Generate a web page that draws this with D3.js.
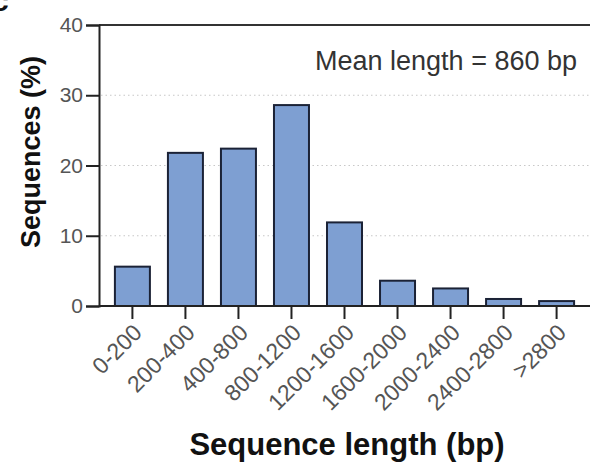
<!DOCTYPE html>
<html><head><meta charset="utf-8">
<script src="https://cdn.jsdelivr.net/npm/d3@7"></script>
<style>body{margin:0;background:#fff}</style>
</head><body>
<svg id="c" width="591" height="465"></svg>
<script>
const categories = ["0-200","200-400","400-800","800-1200","1200-1600","1600-2000","2000-2400","2400-2800",">2800"];
const values = [5.6, 21.8, 22.4, 28.6, 11.9, 3.6, 2.5, 1.0, 0.7];
const yTicks = [0, 10, 20, 30, 40];
const annotation = "Mean length = 860 bp";

const svg = d3.select("#c");
const font = "Liberation Sans, Arial, Helvetica, sans-serif";
const L = 99, R = 590, T = 25, B = 306;

const x = d3.scaleBand().domain(categories).range([L, R]).paddingInner(0.34).paddingOuter(0.3);
const y = d3.scaleLinear().domain([0, 40]).range([B, T]);

// panel letter fragment
svg.append("text").attr("x", -8).attr("y", 11).attr("font-family", font)
  .attr("font-weight", "bold").attr("font-size", 30).attr("fill", "#111").text("c");

// gridlines
svg.append("g").selectAll("line").data(yTicks.filter(d => d > 0 && d < 40)).join("line")
  .attr("x1", L + 2).attr("x2", R).attr("y1", d => y(d)).attr("y2", d => y(d))
  .attr("stroke", "#c8c8c8").attr("stroke-width", 1.2).attr("stroke-dasharray", "1.5,3");

// bars
svg.append("g").selectAll("rect").data(values).join("rect")
  .attr("x", (d, i) => x(categories[i])).attr("width", x.bandwidth())
  .attr("y", d => y(d)).attr("height", d => B - y(d))
  .attr("fill", "#7e9fd2").attr("stroke", "#1b2236").attr("stroke-width", 2);

// top frame line
svg.append("line").attr("x1", L).attr("x2", R).attr("y1", T).attr("y2", T)
  .attr("stroke", "#333").attr("stroke-width", 2);

// y axis
const ya = svg.append("g").attr("transform", `translate(${L},0)`)
  .call(d3.axisLeft(y).tickValues(yTicks).tickSize(13).tickPadding(3));
ya.select(".domain").attr("stroke", "#222").attr("stroke-width", 2);
ya.selectAll(".tick line").attr("stroke", "#222").attr("stroke-width", 2);
ya.selectAll(".tick text").attr("font-family", font).attr("font-size", 21).attr("fill", "#555");

// x axis
const xa = svg.append("g").attr("transform", `translate(0,${B})`)
  .call(d3.axisBottom(x).tickSize(13).tickSizeOuter(0));
xa.select(".domain").attr("stroke", "#222").attr("stroke-width", 2)
  .attr("d", `M${L},0H${R}`);
xa.selectAll(".tick line").attr("stroke", "#222").attr("stroke-width", 2);
xa.selectAll(".tick text").attr("font-family", font).attr("font-size", 23).attr("fill", "#555")
  .attr("text-anchor", "end").attr("dy", null).attr("y", 0)
  .attr("transform", "translate(11,28) rotate(-45)");

// annotation
svg.append("text").attr("x", 577).attr("y", 70).attr("text-anchor", "end")
  .attr("font-family", font).attr("font-size", 27).attr("fill", "#333").text(annotation);

// axis titles
svg.append("text").attr("transform", "translate(40,152) rotate(-90)").attr("text-anchor", "middle")
  .attr("font-family", font).attr("font-weight", "bold").attr("font-size", 27).attr("fill", "#111")
  .text("Sequences (%)");
svg.append("text").attr("x", 347).attr("y", 455).attr("text-anchor", "middle")
  .attr("font-family", font).attr("font-weight", "bold").attr("font-size", 31).attr("fill", "#111")
  .text("Sequence length (bp)");
</script>
</body></html>
